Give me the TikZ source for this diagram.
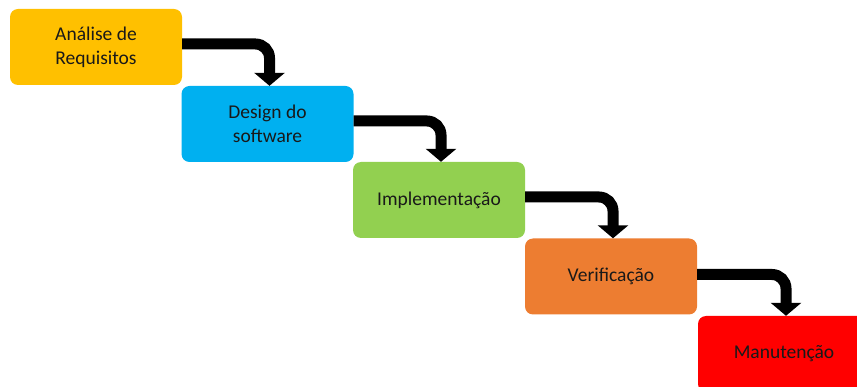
\documentclass[tikz,border=0pt]{standalone}
\usepackage{fontspec}
\setmainfont{Carlito}
\usetikzlibrary{arrows.meta}

\definecolor{reqyellow}{HTML}{FFC000}
\definecolor{desblue}{HTML}{00B0F0}
\definecolor{impgreen}{HTML}{92D050}
\definecolor{verorange}{HTML}{ED7D31}
\definecolor{manred}{HTML}{FF0000}

\begin{document}
\begin{tikzpicture}[x=1pt,y=1pt]
	\clip (0,0) rectangle (857,-387);
	\begin{scope}[every node/.style={rounded corners=8pt,minimum width=172pt,minimum height=76pt,
	              align=center,text=black!90,font=\fontsize{19.5}{24}\selectfont}]
    	\node[fill=reqyellow] (req) at (96,-47) {Análise de\\Requisitos};
    	\node[fill=desblue] (des) at (267.5,-124) {Design do\\software};
    	\node[fill=impgreen] (imp) at (439,-200) {Implementação};
    	\node[fill=verorange] (ver) at (611,-276.5) {Verificação};
    	\node[fill=manred] (man) at (784,-354) {Manutenção};
	\end{scope}
	\begin{scope}[>={Triangle[length=13pt,width=30pt]},
              every path/.style={draw=black,line width=11pt,rounded corners=14pt}]
    	\draw[->] ([yshift=3pt]req.east) -| ([xshift=2pt]des.north);
    	\draw[->] ([yshift=3pt]des.east) -| ([xshift=2pt]imp.north);
    	\draw[->] ([yshift=3pt]imp.east) -| ([xshift=2pt]ver.north);
    	\draw[->] ([yshift=2pt]ver.east) -| ([xshift=2pt]man.north);
	\end{scope}
\end{tikzpicture}
\end{document}
